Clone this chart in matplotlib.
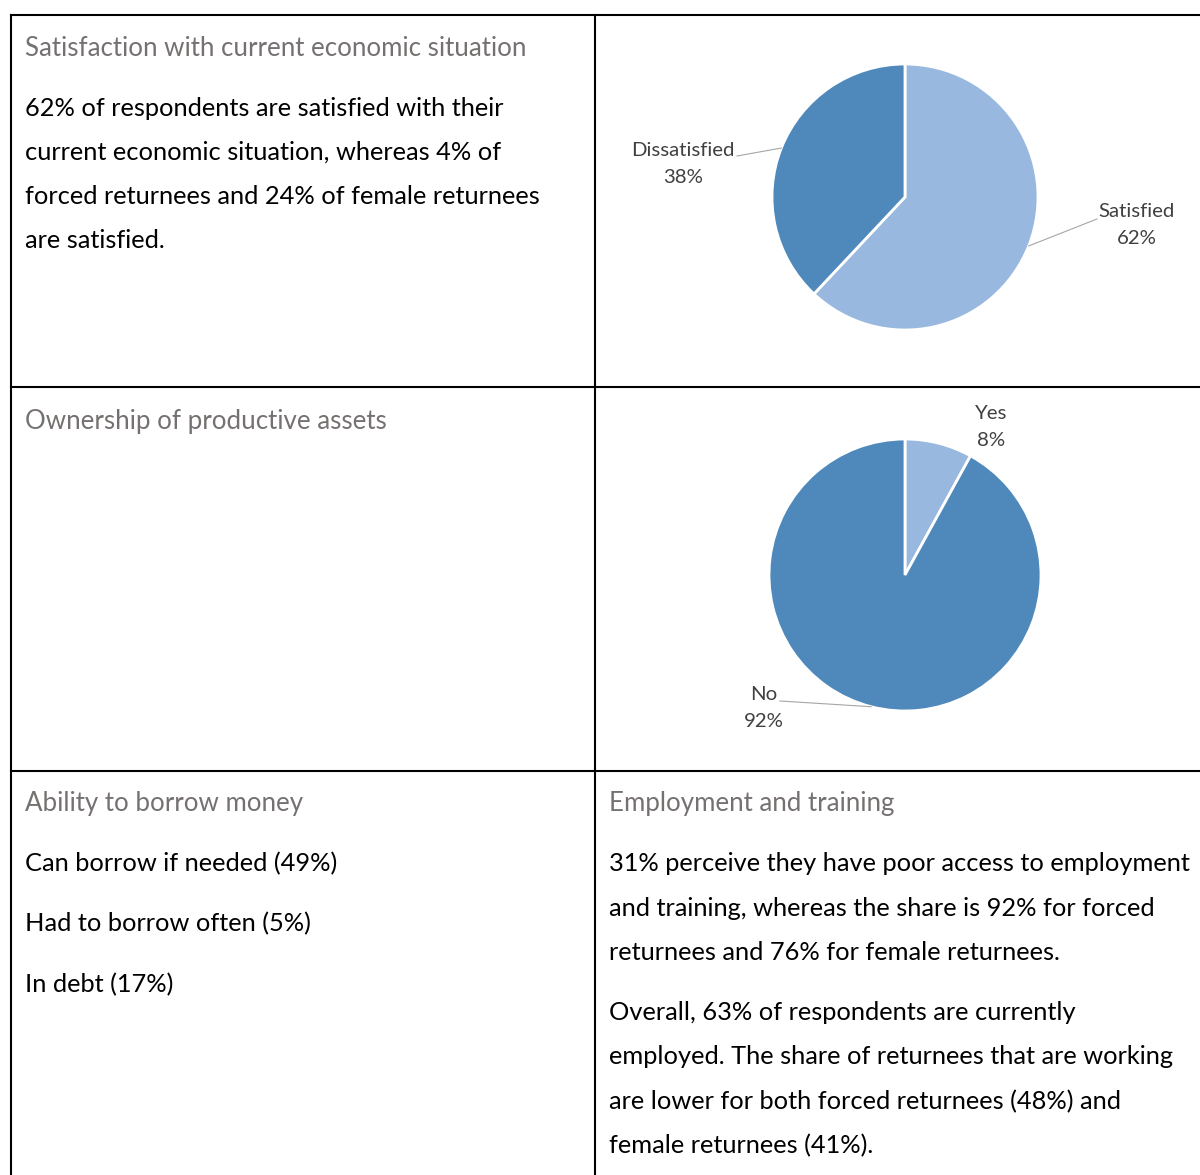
import matplotlib.pyplot as plt
import numpy as np

# pie data
sat_labels = ['Satisfied', 'Dissatisfied']
sat_values = [62, 38]
own_labels = ['Yes', 'No']
own_values = [8, 92]

# cell texts
title_sat = 'Satisfaction with current economic situation'
body_sat = ['62% of respondents are satisfied with their',
            'current economic situation, whereas 4% of',
            'forced returnees and 24% of female returnees',
            'are satisfied.']
title_own = 'Ownership of productive assets'
title_borrow = 'Ability to borrow money'
body_borrow = ['Can borrow if needed (49%)',
               'Had to borrow often (5%)',
               'In debt (17%)']
title_emp = 'Employment and training'
body_emp_1 = ['31% perceive they have poor access to employment',
              'and training, whereas the share is 92% for forced',
              'returnees and 76% for female returnees.']
body_emp_2 = ['Overall, 63% of respondents are currently',
              'employed. The share of returnees that are working',
              'are lower for both forced returnees (48%) and',
              'female returnees (41%).']

light = '#98B8DF'
dark = '#4F89BB'
title_col = '#767171'
label_col = '#404040'
text_font = 'Lato'

W, H = 1200, 1175
fig = plt.figure(figsize=(12, 11.75), dpi=100)
ax = fig.add_axes([0, 0, 1, 1])


def Y(y):
    # page y (from top) to axes y
    return H - y


# table grid
lw = 1.5
ax.plot([11, W], [Y(15), Y(15)], color='black', lw=lw)
ax.plot([11, W], [Y(387), Y(387)], color='black', lw=lw)
ax.plot([11, W], [Y(771), Y(771)], color='black', lw=lw)
ax.plot([11, 11], [Y(15), 0], color='black', lw=lw)
ax.plot([595, 595], [Y(15), 0], color='black', lw=lw)


def draw_lines(x, y0, lines, step, **kw):
    for i, line in enumerate(lines):
        ax.text(x, Y(y0 + i * step), line, ha='left', va='baseline',
                family=text_font, **kw)


tsize = 18.6
bsize = 18.3
ax.text(25, Y(56), title_sat, color=title_col, fontsize=tsize, family=text_font)
draw_lines(25, 116, body_sat, 44, fontsize=bsize, color='black')
ax.text(25, Y(429), title_own, color=title_col, fontsize=tsize, family=text_font)
ax.text(25, Y(811), title_borrow, color=title_col, fontsize=tsize, family=text_font)
draw_lines(25, 871, body_borrow, 60.5, fontsize=bsize, color='black')
ax.text(609, Y(811), title_emp, color=title_col, fontsize=tsize, family=text_font)
draw_lines(609, 871, body_emp_1, 44.5, fontsize=bsize, color='black')
draw_lines(609, 1020, body_emp_2, 44.5, fontsize=bsize, color='black')


def draw_pie(values, labels, center, radius, label_pos, leader):
    wedges, _ = ax.pie(values, colors=[light, dark], startangle=90,
                       counterclock=False, center=center, radius=radius,
                       wedgeprops=dict(edgecolor='white', linewidth=2))
    for w, lab, val, pos, lead in zip(wedges, labels, values, label_pos, leader):
        ax.text(pos[0], Y(pos[1]), f'{lab}\n{val}%', ha='center', va='center',
                fontsize=14.7, color=label_col, family=text_font, linespacing=1.7)
        if lead is not None:
            mid = np.deg2rad((w.theta1 + w.theta2) / 2)
            ex = center[0] + radius * np.cos(mid)
            ey = center[1] + radius * np.sin(mid)
            ax.plot([lead[0], lead[1], ex], [Y(lead[2]), Y(lead[2]), ey],
                    color='#A6A6A6', lw=0.8)


draw_pie(sat_values, sat_labels, (905, Y(197)), 133,
         [(1137, 225), (683, 164)],
         [(1097, 1097, 219), (737, 737, 156)])
draw_pie(own_values, own_labels, (905, Y(575)), 136,
         [(991, 427), (764, 708)],
         [None, (780, 780, 701)])

ax.set_xlim(0, W)
ax.set_ylim(0, H)
ax.set_aspect('auto')
ax.axis('off')

fig.savefig('out.png', dpi=100, facecolor='white')
